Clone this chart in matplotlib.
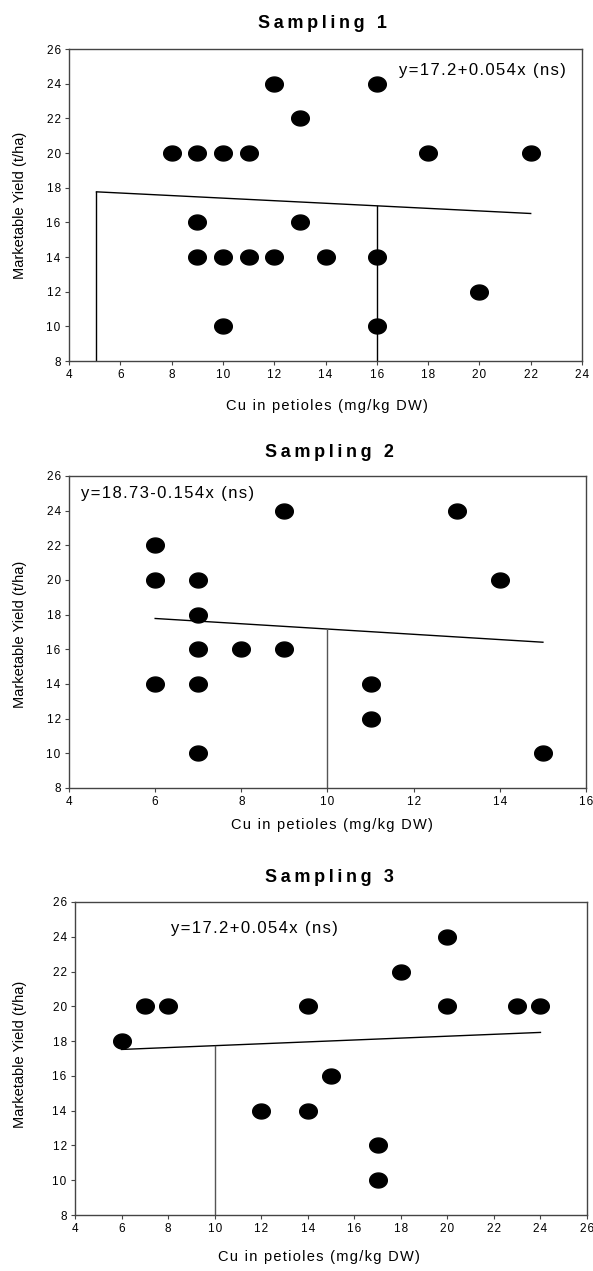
import matplotlib
matplotlib.use("Agg")
import matplotlib.pyplot as plt
import numpy as np
from matplotlib.path import Path

plt.rcParams['font.family'] = ['Liberation Sans', 'DejaVu Sans']

# ---------------- data ----------------
titles = ["Sampling 1", "Sampling 2", "Sampling 3"]
equations = ["y=17.2+0.054x (ns)", "y=18.73-0.154x (ns)", "y=17.2+0.054x (ns)"]

s1_cu = [8, 9, 10, 11, 12, 13, 16, 18, 22, 9, 13, 9, 10, 11, 12, 14, 16, 20, 10, 16]
s1_yield = [20, 20, 20, 20, 24, 22, 24, 20, 20, 16, 16, 14, 14, 14, 14, 14, 14, 12, 10, 10]

s2_cu = [6, 6, 7, 7, 7, 8, 9, 9, 13, 14, 6, 7, 11, 11, 7, 15]
s2_yield = [22, 20, 20, 18, 16, 16, 16, 24, 24, 20, 14, 14, 14, 12, 10, 10]

s3_cu = [6, 7, 8, 14, 18, 20, 20, 23, 24, 15, 12, 14, 17, 17]
s3_yield = [18, 20, 20, 20, 22, 24, 20, 20, 20, 16, 14, 14, 12, 10]

# regression line end points (x, y) as drawn
s1_fit_x = [5.07, 22.0]
s1_fit_y = [17.76, 16.51]
s2_fit_x = [6.0, 15.0]
s2_fit_y = [17.78, 16.41]
s3_fit_x = [6.0, 24.0]
s3_fit_y = [17.52, 18.50]

# vertical drop lines (x, top y)
s1_drop_x = [5.07, 16.0]
s1_drop_top = [17.76, 16.95]
s2_drop_x = [10.0]
s2_drop_top = [17.19]
s3_drop_x = [10.0]
s3_drop_top = [17.73]

x_limits = [(4, 24), (4, 16), (4, 26)]
y_limits = (8, 26)
x_ticks = [list(range(4, 25, 2)), list(range(4, 17, 2)), list(range(4, 27, 2))]
y_ticks = list(range(8, 27, 2))
eq_pos = [(16.85, 24.75), (4.27, 25.0), (8.13, 24.45)]

x_label = "Cu in petioles (mg/kg DW)"
y_label = "Marketable Yield (t/ha)"

HAIR = '\u200a'
THIN = '\u2009'


def spaced(s, sep=HAIR):
    return sep.join(list(s))


# ---------------- layout ----------------
W, H = 593, 1271
fig = plt.figure(figsize=(W / 100, H / 100), dpi=100)

# axes boxes in pixels: left, right, top, bottom
boxes = [(69, 582, 49, 361), (69, 586, 476, 788), (75, 587, 902, 1215)]
title_xy = [(322, 23), (329, 452), (329, 877)]
xlabel_xy = [(327, 406), (332, 825), (319, 1257)]
ylabel_xy = [(20, 205), (20, 634), (20, 1054)]

# slightly elliptical marker
t = np.linspace(0, 2 * np.pi, 60)
ell = Path(np.column_stack([1.18 * np.cos(t), np.sin(t)]), closed=True)

datasets = [
    (s1_cu, s1_yield, s1_fit_x, s1_fit_y, s1_drop_x, s1_drop_top, 'black'),
    (s2_cu, s2_yield, s2_fit_x, s2_fit_y, s2_drop_x, s2_drop_top, '#555555'),
    (s3_cu, s3_yield, s3_fit_x, s3_fit_y, s3_drop_x, s3_drop_top, '#555555'),
]

spine_col = '#444444'
for i, (cx, yy, fx, fy, dx, dtop, dcol) in enumerate(datasets):
    l, r, tp, b = boxes[i]
    ax = fig.add_axes([l / W, 1 - b / H, (r - l) / W, (b - tp) / H])
    ax.plot(fx, fy, color='black', lw=1.0, zorder=2)
    for xv, tv in zip(dx, dtop):
        ax.plot([xv, xv], [y_limits[0], tv], color=dcol, lw=1.0, zorder=2)
    ax.plot(cx, yy, linestyle='none', marker=ell, markersize=12.7,
            color='black', zorder=3, clip_on=False)
    ax.set_xlim(*x_limits[i])
    ax.set_ylim(*y_limits)
    ax.set_xticks(x_ticks[i])
    ax.set_xticklabels([spaced(str(v)) for v in x_ticks[i]])
    ax.set_yticks(y_ticks)
    ax.set_yticklabels([spaced(str(v)) for v in y_ticks])
    ax.tick_params(direction='out', length=3, width=0.8, labelsize=8.5,
                   color=spine_col, pad=3)
    for sp in ax.spines.values():
        sp.set_color(spine_col)
        sp.set_linewidth(1.0)
    ex, ey = eq_pos[i]
    ax.text(ex, ey, spaced(equations[i]), fontsize=12, ha='left', va='center')

    fig.text(title_xy[i][0] / W, 1 - title_xy[i][1] / H, spaced(titles[i], THIN),
             fontsize=13, fontweight='bold', ha='center', va='center')
    fig.text(xlabel_xy[i][0] / W, 1 - xlabel_xy[i][1] / H, spaced(x_label),
             fontsize=10.5, ha='center', va='center')
    fig.text(ylabel_xy[i][0] / W, 1 - ylabel_xy[i][1] / H, y_label,
             fontsize=10.5, ha='center', va='center', rotation=90)

fig.savefig("out.png", dpi=100, facecolor='white')
